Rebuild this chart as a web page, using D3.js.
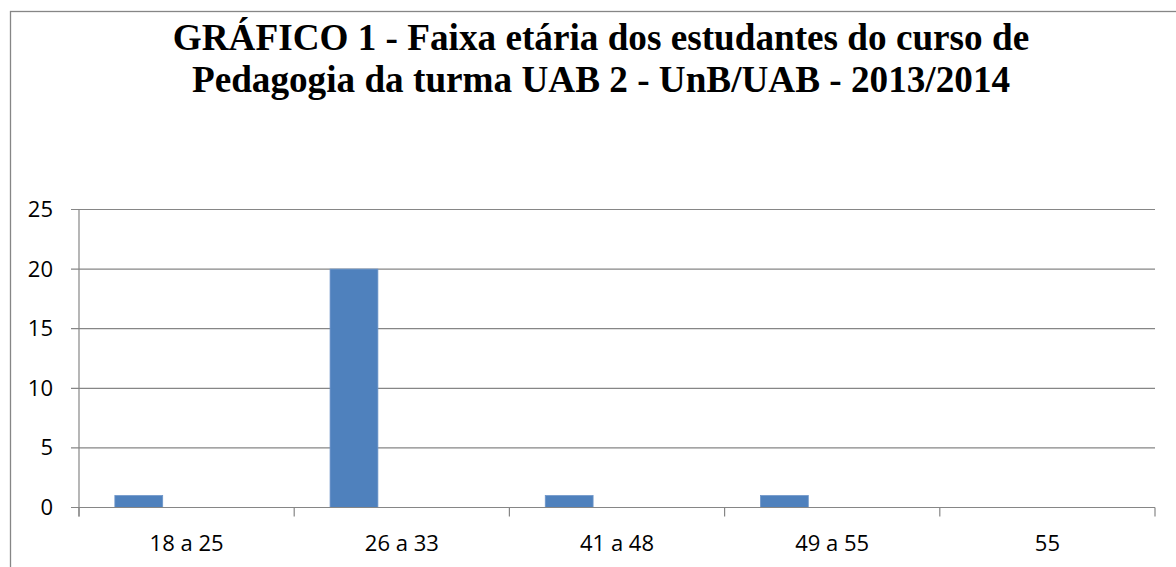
<!DOCTYPE html>
<html><head><meta charset="utf-8">
<script src="https://cdn.jsdelivr.net/npm/d3@7"></script>
<style>html,body{margin:0;padding:0;background:#fff;overflow:hidden}</style>
</head><body>
<svg id="c" width="1176" height="567"></svg>
<script>
const titleLines = ["GRÁFICO 1 - Faixa etária dos estudantes do curso de", "Pedagogia da turma UAB 2 - UnB/UAB - 2013/2014"];
const categories = ["18 a 25", "26 a 33", "41 a 48", "49 a 55", "55"];
const values = [1, 20, 1, 1, 0];
const yTicks = [0, 5, 10, 15, 20, 25];
const slots = ["s1", "s2", "s3"];

const svg = d3.select("#c");
const L = 79, R = 1155, T = 209.5, B = 507.5;

svg.append("rect").attr("x", 10.5).attr("y", 11.5).attr("width", 1182).attr("height", 600)
  .attr("fill", "none").attr("stroke", "#868686").attr("stroke-width", 1.3);

const x = d3.scaleBand().domain(categories).range([L, R]).padding(0);
const x1 = d3.scaleBand().domain(slots).range([0, x.bandwidth()]).paddingInner(0).paddingOuter(0.75);
const y = d3.scaleLinear().domain([0, 25]).range([B, T]);

// gridlines
svg.append("g").selectAll("line").data(yTicks).join("line")
  .attr("x1", L - 8).attr("x2", R).attr("y1", d => y(d)).attr("y2", d => y(d))
  .attr("stroke", "#868686").attr("stroke-width", 1.2);

// y axis
const yAxis = svg.append("g").attr("transform", `translate(${L},0)`)
  .call(d3.axisLeft(y).tickValues(yTicks).tickSize(0).tickPadding(26));
yAxis.select(".domain").remove();
yAxis.selectAll("text").attr("font-family", "Open Sans").attr("font-size", 22).attr("fill", "#000");
svg.append("line").attr("x1", L).attr("x2", L).attr("y1", T).attr("y2", B + 9)
  .attr("stroke", "#868686").attr("stroke-width", 1.2);

// bars
svg.append("g").selectAll("rect").data(categories).join("rect")
  .attr("x", (d) => x(d) + x1("s1"))
  .attr("width", x1.bandwidth())
  .attr("y", (d, i) => y(values[i]))
  .attr("height", (d, i) => B - y(values[i]))
  .attr("fill", "#4F81BD").attr("stroke", "#6d95c9").attr("stroke-width", 0.8);

// x axis
const xAxis = svg.append("g").attr("transform", `translate(0,${B})`)
  .call(d3.axisBottom(x).tickSize(0).tickPadding(28));
xAxis.select(".domain").remove();
xAxis.selectAll("text").attr("font-family", "Open Sans").attr("font-size", 22).attr("fill", "#000");
svg.append("line").attr("x1", L).attr("x2", R).attr("y1", B).attr("y2", B)
  .attr("stroke", "#868686").attr("stroke-width", 1.2);
const bounds = categories.map(c => x(c)).concat([R]);
svg.append("g").selectAll("line").data(bounds).join("line")
  .attr("x1", d => d).attr("x2", d => d).attr("y1", B).attr("y2", B + 9)
  .attr("stroke", "#868686").attr("stroke-width", 1.2);

// title
svg.append("g").selectAll("text").data(titleLines).join("text")
  .attr("x", 601).attr("y", (d, i) => 50 + i * 41.7)
  .attr("text-anchor", "middle").attr("font-family", "Liberation Serif")
  .attr("font-weight", "bold").attr("font-size", 37.2).attr("fill", "#000").text(d => d);
</script>
</body></html>
